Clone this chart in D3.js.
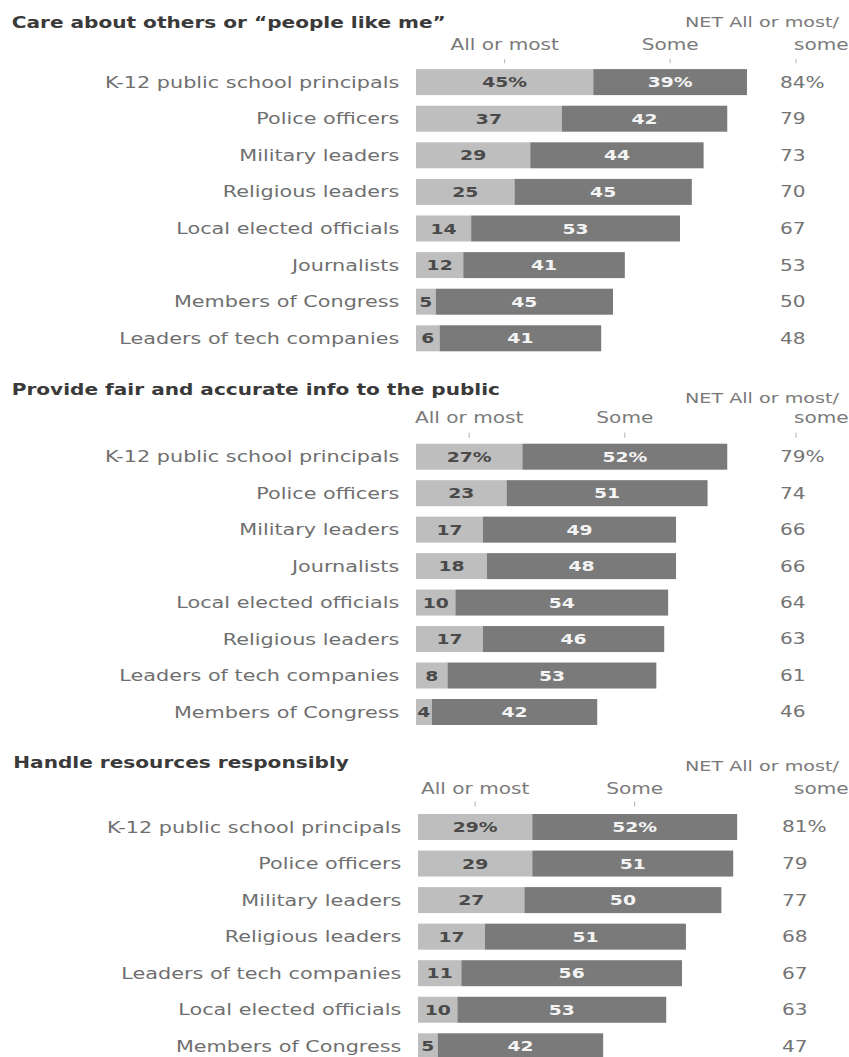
<!DOCTYPE html>
<html>
<head>
<meta charset="utf-8">
<script src="https://cdn.jsdelivr.net/npm/d3@7/dist/d3.min.js"></script>
<style>
  html, body { margin: 0; padding: 0; background: #ffffff; overflow: hidden; }
  svg { display: block; }
  text { font-family: "DejaVu Sans", sans-serif; }
</style>
</head>
<body>
<svg id="chart" width="849" height="1057"></svg>
<script>
// ---------- data ----------
const sectionTitles = [
  "Care about others or \u201Cpeople like me\u201D",
  "Provide fair and accurate info to the public",
  "Handle resources responsibly"
];
const seriesNames = ["All or most", "Some"];
const netHeader = ["NET All or most/", "some"];

const careCats = ["K-12 public school principals", "Police officers", "Military leaders", "Religious leaders",
  "Local elected officials", "Journalists", "Members of Congress", "Leaders of tech companies"];
const careAll = [45, 37, 29, 25, 14, 12, 5, 6];
const careSome = [39, 42, 44, 45, 53, 41, 45, 41];
const careNet = [84, 79, 73, 70, 67, 53, 50, 48];

const infoCats = ["K-12 public school principals", "Police officers", "Military leaders", "Journalists",
  "Local elected officials", "Religious leaders", "Leaders of tech companies", "Members of Congress"];
const infoAll = [27, 23, 17, 18, 10, 17, 8, 4];
const infoSome = [52, 51, 49, 48, 54, 46, 53, 42];
const infoNet = [79, 74, 66, 66, 64, 63, 61, 46];

const resCats = ["K-12 public school principals", "Police officers", "Military leaders", "Religious leaders",
  "Leaders of tech companies", "Local elected officials", "Members of Congress"];
const resAll = [29, 29, 27, 17, 11, 10, 5];
const resSome = [52, 51, 50, 51, 56, 53, 42];
const resNet = [81, 79, 77, 68, 67, 63, 47];

// ---------- layout (positions/styles only) ----------
const layouts = [
  {c0: 82.1, step: 36.6, ox: 416, titleX: 11.7, titleY: 22.7, netY: 21.7, headY: 45, tickY: [59.3, 63.3], netTick: true},
  {c0: 456.7, step: 36.47, ox: 416, titleX: 11.7, titleY: 390, netY: 397.7, headY: 418, tickY: [432.7, 437.7], netTick: true},
  {c0: 827, step: 36.55, ox: 418, titleX: 13.3, titleY: 762.7, netY: 766, headY: 788.3, tickY: [801.7, 806.7], netTick: false}
];
const SX = 1.34;           // horizontal stretch of the type
const BAR_H = 26;
const C = {
  title: "#3a3a3a", label: "#6f6f6f", head: "#7a7a7a", net: "#747474", tick: "#b0b0b0",
  light: "#bebebe", dark: "#7a7a7a", onLight: "#4a4a4a", onDark: "#f4f4f4"
};

const sections = [
  {title: sectionTitles[0], cats: careCats, all: careAll, some: careSome, net: careNet},
  {title: sectionTitles[1], cats: infoCats, all: infoAll, some: infoSome, net: infoNet},
  {title: sectionTitles[2], cats: resCats, all: resAll, some: resSome, net: resNet}
];

const svg = d3.select("#chart");
const x = d3.scaleLinear().domain([0, 100]).range([0, 394]);

function stretchedText(parent, px, py, str, opts) {
  const g = parent.append("g").attr("transform", `translate(${px},${py})`);
  const t = g.append("text")
    .attr("transform", `scale(${opts.sx || SX},1)`)
    .attr("dy", "0.36em")
    .attr("text-anchor", opts.anchor || "start")
    .attr("font-size", opts.size)
    .attr("font-weight", opts.weight || "normal")
    .attr("fill", opts.fill)
    .text(str);
  return t;
}

sections.forEach((s, si) => {
  const L = layouts[si];
  const n = s.cats.length;
  const top = L.c0 - L.step / 2;
  const pad = 1 - BAR_H / L.step;
  const y = d3.scaleBand().domain(s.cats).range([top, top + n * L.step])
    .paddingInner(pad).paddingOuter(pad / 2);
  const g = svg.append("g");
  const rows = s.cats.map((c, i) => ({cat: c, all: s.all[i], some: s.some[i], net: s.net[i], i}));

  // title
  stretchedText(g, L.titleX, L.titleY, s.title, {size: 15, weight: "bold", fill: C.title});

  // column headers
  const first = rows[0];
  const tickAll = L.ox + x(first.all / 2);
  const tickSome = L.ox + x(first.all + first.some / 2);
  const tickNet = L.ox + 380;
  stretchedText(g, tickAll, L.headY, seriesNames[0], {size: 15, anchor: "middle", fill: C.head});
  stretchedText(g, tickSome, L.headY, seriesNames[1], {size: 15, anchor: "middle", fill: C.head});
  stretchedText(g, 685, L.netY, netHeader[0], {size: 14.3, fill: C.head});
  stretchedText(g, 794, L.headY, netHeader[1], {size: 15, fill: C.head});
  const ticks = [tickAll, tickSome].concat(L.netTick ? [tickNet] : []);
  g.selectAll("line.tick").data(ticks).join("line")
    .attr("x1", d => d).attr("x2", d => d)
    .attr("y1", L.tickY[0]).attr("y2", L.tickY[1])
    .attr("stroke", C.tick).attr("stroke-width", 1);

  // bars
  g.selectAll("rect.all").data(rows).join("rect")
    .attr("x", L.ox + x(0)).attr("y", d => y(d.cat))
    .attr("width", d => x(d.all)).attr("height", y.bandwidth())
    .attr("fill", C.light);
  g.selectAll("rect.some").data(rows).join("rect")
    .attr("x", d => L.ox + x(d.all)).attr("y", d => y(d.cat))
    .attr("width", d => x(d.some)).attr("height", y.bandwidth())
    .attr("fill", C.dark);

  rows.forEach(d => {
    const cy = y(d.cat) + y.bandwidth() / 2;
    const suf = d.i === 0 ? "%" : "";
    // category label
    stretchedText(g, L.ox - 16.7, cy, d.cat, {size: 15.5, anchor: "end", fill: C.label});
    // value labels
    stretchedText(g, L.ox + x(d.all / 2), cy, d.all + suf, {size: 14, weight: "bold", anchor: "middle", fill: C.onLight});
    stretchedText(g, L.ox + x(d.all + d.some / 2), cy, d.some + suf, {size: 14, weight: "bold", anchor: "middle", fill: C.onDark});
    // net
    stretchedText(g, L.ox + 364, cy, d.net + suf, {size: 15, fill: C.net});
  });
});
</script>
</body>
</html>
